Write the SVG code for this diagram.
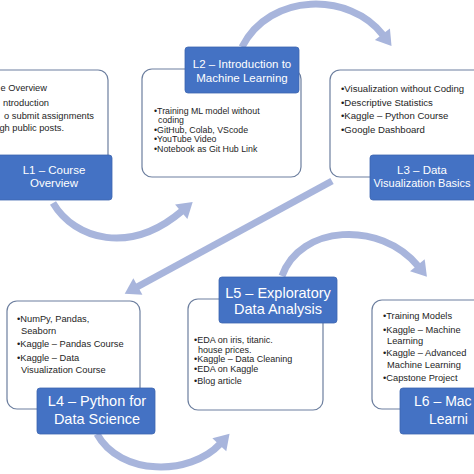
<svg xmlns="http://www.w3.org/2000/svg" width="474" height="474" viewBox="0 0 474 474">
<defs>
<style>
.wb{fill:#fff;stroke:#6d7f9f;stroke-width:1.2}
.bb{fill:#4472c4;stroke:#3d66b0;stroke-width:0.8}
.tt{fill:#fff;font-family:"Liberation Sans",Arial,sans-serif;text-anchor:middle}
.s{font-size:11.5px}
.l{font-size:14.5px}
.bt{fill:#1e1e1e;font-family:"Liberation Sans",Arial,sans-serif;font-size:9.3px}
.ar{fill:none;stroke:#a8b5dc;stroke-width:7;marker-end:url(#ah)}
</style>
<marker id="ah" markerUnits="userSpaceOnUse" markerWidth="20" markerHeight="22" viewBox="0 -11 16 22" refX="1" refY="0" orient="auto">
<path d="M0,-9.5 L15,0 L0,9.5 z" fill="#a8b5dc"/>
</marker>
</defs>
<rect width="474" height="474" fill="#fff"/>
<g id="connectors">
<path class="ar" d="M53 203 C75 240 130 255 182 211"/>
<path class="ar" d="M242 47 C270 -8 350 -8 383 35"/>
<path class="ar" d="M332 181 L137 287"/>
<path class="ar" d="M97 434 C120 476 190 476 220 444"/>
<path class="ar" d="M282 276 C300 225 380 220 418 266"/>
</g>
<g id="L1">
<rect class="wb" x="-12" y="70" width="120" height="128" rx="10"/>
<text class="bt" text-anchor="end" x="47" y="91">e Overview</text>
<text class="bt" text-anchor="end" x="49" y="105.5">ntroduction</text>
<text class="bt" text-anchor="end" x="94" y="118.5">o submit assignments</text>
<text class="bt" text-anchor="end" x="64" y="131">gh public posts.</text>
<rect class="bb" x="-5" y="155" width="117" height="45" rx="3"/>
<text class="tt s" x="54" y="174">L1 – Course</text>
<text class="tt s" x="54" y="187">Overview</text>
</g>
<g id="L2">
<rect class="wb" x="142" y="69" width="159" height="108" rx="10"/>
<rect class="bb" x="185" y="47" width="114" height="46" rx="3"/>
<text class="tt s" x="242" y="68">L2 – Introduction to</text>
<text class="tt s" x="242" y="82">Machine Learning</text>
<g class="bt" style="font-size:8.8px">
<text x="154" y="114">•Training ML model without</text>
<text x="158" y="123">coding</text>
<text x="154" y="132.5">•GitHub, Colab, VScode</text>
<text x="154" y="141.5">•YouTube Video</text>
<text x="154" y="151.5">•Notebook as Git Hub Link</text>
</g>
</g>
<g id="L3">
<rect class="wb" x="330" y="70" width="160" height="107" rx="10"/>
<g class="bt" style="font-size:9.6px">
<text x="341" y="92">•Visualization without Coding</text>
<text x="341" y="106">•Descriptive Statistics</text>
<text x="341" y="118.5">•Kaggle – Python Course</text>
<text x="341" y="132.5">•Google Dashboard</text>
</g>
<rect class="bb" x="370" y="155" width="120" height="45" rx="3"/>
<text class="tt s" x="422" y="174">L3 – Data</text>
<text class="tt s" style="font-size:11px" x="422" y="187">Visualization Basics</text>
</g>
<g id="L4">
<rect class="wb" x="7" y="301" width="133" height="108" rx="10"/>
<g class="bt">
<text x="17" y="321.5">•NumPy, Pandas,</text>
<text x="21" y="333.5">Seaborn</text>
<text x="17" y="346.5">•Kaggle – Pandas Course</text>
<text x="17" y="360.5">•Kaggle – Data</text>
<text x="21" y="372.5">Visualization Course</text>
</g>
<rect class="bb" x="37" y="388" width="118" height="46" rx="3"/>
<text class="tt l" x="97" y="406">L4 – Python for</text>
<text class="tt l" x="97" y="424">Data Science</text>
</g>
<g id="L5">
<rect class="wb" x="188" y="299" width="135" height="111" rx="10"/>
<rect class="bb" x="219" y="277" width="118" height="46" rx="3"/>
<text class="tt l" x="278" y="298">L5 – Exploratory</text>
<text class="tt l" x="278" y="314">Data Analysis</text>
<g class="bt" style="font-size:9px">
<text x="194" y="342.5">•EDA on iris, titanic.</text>
<text x="198" y="353">house prices.</text>
<text x="194" y="361.5">•Kaggle – Data Cleaning</text>
<text x="194" y="371.5">•EDA on Kaggle</text>
<text x="194" y="383.5">•Blog article</text>
</g>
</g>
<g id="L6">
<rect class="wb" x="372" y="300" width="120" height="109" rx="10"/>
<g class="bt">
<text x="383" y="319">•Training Models</text>
<text x="383" y="333">•Kaggle – Machine</text>
<text x="387" y="344">Learning</text>
<text x="383" y="356">•Kaggle – Advanced</text>
<text x="387" y="368">Machine Learning</text>
<text x="383" y="381">•Capstone Project</text>
</g>
<rect class="bb" x="400" y="388" width="90" height="46" rx="3"/>
<text class="tt l" style="text-anchor:start;font-size:14px" x="414" y="406">L6 – Mac</text>
<text class="tt l" style="text-anchor:start;font-size:14px" x="429" y="424">Learni</text>
</g>
</svg>
